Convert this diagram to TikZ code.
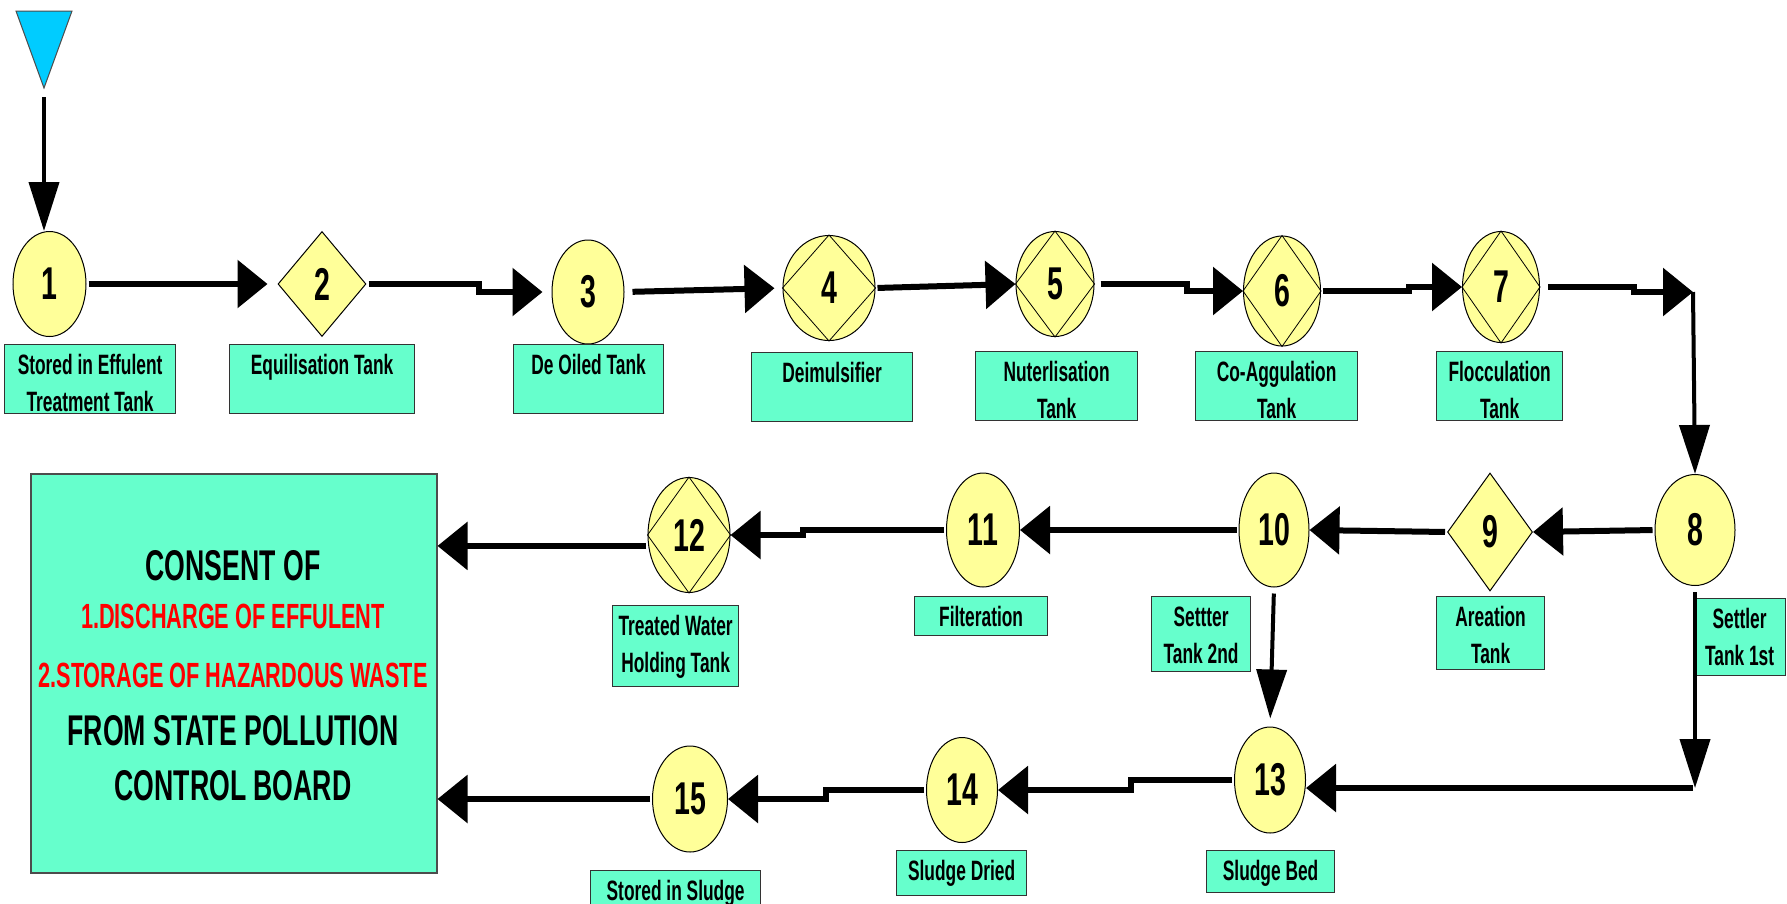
\documentclass[tikz,border=0pt]{standalone}
\usepackage{fontspec}
\newfontfamily\narrowfont{Liberation Sans}[FakeStretch=0.62]
\usetikzlibrary{arrows.meta,shapes.geometric}
\definecolor{tankyellow}{HTML}{FFFF99}
\definecolor{tankgreen}{HTML}{66FFCC}
\definecolor{inletblue}{HTML}{00CCFF}
\definecolor{consentred}{HTML}{FF0000}
% text of a label box, set from its top edge
\newcommand{\boxtext}[3]{\parbox[t][#2][t]{#1}{\centering\rule{0pt}{30pt}#3}}

\begin{document}
\begin{tikzpicture}[x=1pt,y=-1pt,
  tank/.style={ellipse, draw, line width=1pt, fill=tankyellow, inner sep=0pt,
    font=\narrowfont\bfseries\fontsize{46}{50}\selectfont},
  dtank/.style={tank, diamond},
  tanklabel/.style={draw=black!80, line width=1.2pt, fill=tankgreen, inner sep=0pt,
    anchor=north west, font=\narrowfont\bfseries\fontsize{28}{37}\selectfont},
  flow/.style={line width=6pt, -{Triangle[length=30pt,width=47pt]}, shorten <=2pt},
  vflow/.style={line width=4pt, -{Triangle[length=49pt,width=30pt]}},
  bigtext/.style={anchor=base, font=\narrowfont\bfseries\fontsize{43}{50}\selectfont},
  redtext/.style={anchor=base, text=consentred, font=\narrowfont\bfseries\fontsize{35}{40}\selectfont}]
\useasboundingbox (0,0) rectangle (1787,903);
\fill[white] (0,0) rectangle (1787,903);

\draw[fill=inletblue, draw=black!70, line width=1pt] (16,11) -- (72,11) -- (44,88) -- cycle;
\coordinate (inlet) at (44,97);

% tanks
\node[tank, minimum width=73pt, minimum height=105pt] (n1) at (49.5,284) {1};
\node[dtank, minimum width=88pt, minimum height=105pt] (n2) at (322,284) {2};
\node[tank, minimum width=72pt, minimum height=104pt] (n3) at (588,292) {3};
\node[tank, minimum width=92pt, minimum height=105pt] (n4) at (829,288) {4};
\node[tank, minimum width=78pt, minimum height=105pt] (n5) at (1055,284) {5};
\node[tank, minimum width=77pt, minimum height=110pt] (n6) at (1282,291) {6};
\node[tank, minimum width=77pt, minimum height=111pt] (n7) at (1501,287) {7};
\node[tank, minimum width=80pt, minimum height=111pt] (n8) at (1695,530) {8};
\node[dtank, minimum width=85pt, minimum height=118pt] (n9) at (1490,532) {9};
\node[tank, minimum width=70pt, minimum height=114pt] (n10) at (1274,530) {10};
\node[tank, minimum width=73pt, minimum height=114pt] (n11) at (983,530) {11};
\node[tank, minimum width=82pt, minimum height=115pt] (n12) at (689,535) {12};
\node[tank, minimum width=71pt, minimum height=106pt] (n13) at (1270,780) {13};
\node[tank, minimum width=71pt, minimum height=105pt] (n14) at (962,790) {14};
\node[tank, minimum width=75pt, minimum height=106pt] (n15) at (690,799) {15};

\draw[line width=0.8pt] (n4.north) -- (n4.east) -- (n4.south) -- (n4.west) -- cycle;
\draw[line width=0.8pt] (n5.north) -- (n5.east) -- (n5.south) -- (n5.west) -- cycle;
\draw[line width=0.8pt] (n6.north) -- (n6.east) -- (n6.south) -- (n6.west) -- cycle;
\draw[line width=0.8pt] (n7.north) -- (n7.east) -- (n7.south) -- (n7.west) -- cycle;
\draw[line width=0.8pt] (n12.north) -- (n12.east) -- (n12.south) -- (n12.west) -- cycle;

% labels
\node[tanklabel] (l1) at (4,344) {\boxtext{171pt}{69pt}{Stored in Effulent\\Treatment Tank}};
\node[tanklabel] (l2) at (229,344) {\boxtext{185pt}{69pt}{Equilisation Tank}};
\node[tanklabel] (l3) at (513,344) {\boxtext{150pt}{69pt}{De Oiled Tank}};
\node[tanklabel] (l4) at (751,352) {\boxtext{161pt}{69pt}{Deimulsifier}};
\node[tanklabel] (l5) at (975,351) {\boxtext{162pt}{69pt}{Nuterlisation\\Tank}};
\node[tanklabel] (l6) at (1195,351) {\boxtext{162pt}{69pt}{Co-Aggulation\\Tank}};
\node[tanklabel] (l7) at (1436,351) {\boxtext{126pt}{69pt}{Flocculation\\Tank}};
\node[tanklabel] (l8) at (1693,598) {\boxtext{92pt}{77pt}{Settler\\Tank 1st}};
\node[tanklabel] (l9) at (1436,596) {\boxtext{108pt}{73pt}{Areation\\Tank}};
\node[tanklabel] (l10) at (1151,596) {\boxtext{99pt}{75pt}{Settter\\Tank 2nd}};
\node[tanklabel] (l11) at (914,596) {\boxtext{133pt}{39pt}{Filteration}};
\node[tanklabel] (l12) at (612,605) {\boxtext{126pt}{81pt}{Treated Water\\Holding Tank}};
\node[tanklabel] (l13) at (1206,850) {\boxtext{128pt}{42pt}{Sludge Bed}};
\node[tanklabel] (l14) at (896,850) {\boxtext{130pt}{45pt}{Sludge Dried}};
\node[tanklabel] (l15) at (590,870) {\boxtext{170pt}{45pt}{Stored in Sludge}};

% consent box
\node[draw=black!70, line width=1.5pt, fill=tankgreen, minimum width=406pt, minimum height=399pt, anchor=north west] (consent) at (30,473) {};
\node[bigtext] (t1) at (233,580) {CONSENT OF};
\node[redtext] (t2) at (233,628) {1.DISCHARGE OF EFFULENT};
\node[redtext] (t3) at (233,687) {2.STORAGE OF HAZARDOUS WASTE};
\node[bigtext] (t4) at (233,745) {FROM STATE POLLUTION};
\node[bigtext] (t5) at (233,800) {CONTROL BOARD};

% flow
\coordinate (c7) at (1693,292);
\coordinate (c8) at (1695,788);
\draw[vflow] (inlet) -- (inlet |- n1.north);
\draw[flow, shorten >=10pt] (n1.east) -- (n2.west);
\draw[flow, shorten >=9pt] (n2.east) -- ([xshift=112pt]n2.east) |- (n3.west);
\draw[flow, shorten <=8pt, shorten >=8pt] (n3.east) -- (n4.west);
\draw[flow] (n4.east) -- (n5.west);
\draw[flow, shorten <=6pt] (n5.east) -- ([xshift=92pt]n5.east) |- (n6.west);
\draw[flow] (n6.east) -- ([xshift=88pt]n6.east) |- (n7.west);
\draw[flow, shorten <=8pt] (n7.east) -- ([xshift=94pt]n7.east) |- (c7);
\draw[vflow] (c7) -- (n8.north);
\draw[flow] (n8.west) -- (n9.east);
\draw[flow] (n9.west) -- (n10.east);
\draw[flow] (n10.west) -- (n11.east);
\draw[flow] (n11.west) -- ([xshift=-143pt]n11.west) |- (n12.east);
\draw[flow] (n12.195) -- (n12.195 -| consent.east);
\draw[vflow, shorten <=6pt] (n8.south) -- (c8);
\draw[flow] (c8) -- (c8 -| n13.east);
\draw[vflow, shorten <=6pt, shorten >=8pt] (n10.south) -- (n13.north);
\draw[flow] (n13.west) -- ([xshift=-103pt]n13.west) |- (n14.east);
\draw[flow] (n14.west) -- ([xshift=-100pt]n14.west) |- (n15.east);
\draw[flow] (n15.west) -- (n15.west -| consent.east);
\end{tikzpicture}
\end{document}
